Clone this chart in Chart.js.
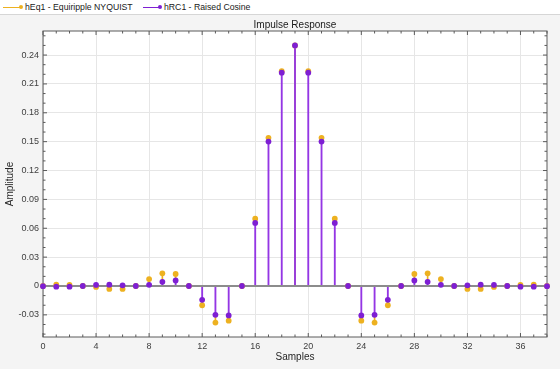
<!DOCTYPE html>
<html><head><meta charset="utf-8">
<script src="https://cdn.jsdelivr.net/npm/chart.js@4/dist/chart.umd.min.js"></script>
<style>
html,body{margin:0;padding:0;width:560px;height:369px;overflow:hidden;background:#f4f4f4;font-family:"Liberation Sans",Arial,Helvetica,sans-serif;}
#wrap{position:relative;width:560px;height:369px;}
#legend{position:absolute;left:0;top:0;width:560px;height:14px;background:#fff;border-bottom:1px solid #d6d6d6;z-index:2;}
.li{position:absolute;top:0;height:14px;font-size:8.7px;line-height:14px;color:#1a1a1a;white-space:nowrap;}
.ln{position:absolute;height:1px;top:7px;}
.dt{position:absolute;width:4px;height:4px;border-radius:50%;top:5px;}
#title{position:absolute;top:19px;left:43px;width:504px;text-align:center;font-size:10px;line-height:12px;color:#1a1a1a;z-index:2;}
canvas{position:absolute;left:0;top:0;}
</style></head>
<body><div id="wrap">
<canvas id="c" width="560" height="369"></canvas>
<div id="legend"></div>
<div id="title">Impulse Response</div>
</div>
<script>
const samples = [0,1,2,3,4,5,6,7,8,9,10,11,12,13,14,15,16,17,18,19,20,21,22,23,24,25,26,27,28,29,30,31,32,33,34,35,36,37,38];
const hEq1 = [0,0.0013,0.0011,0,-0.0010,-0.0030,-0.0030,0,0.0072,0.0132,0.0125,0,-0.0200,-0.0380,-0.0360,0,0.0700,0.1540,0.2232,0.2500,0.2232,0.1540,0.0700,0,-0.0360,-0.0380,-0.0200,0,0.0125,0.0132,0.0072,0,-0.0030,-0.0030,-0.0010,0,0.0011,0.0013,0];
const hRC1 = [-0.0002,-0.0007,-0.0007,0,0.0011,0.0014,0.0007,0,0.0012,0.0043,0.0057,0,-0.0144,-0.0300,-0.0306,0,0.0656,0.1501,0.2217,0.2500,0.2217,0.1501,0.0656,0,-0.0306,-0.0300,-0.0144,0,0.0057,0.0043,0.0012,0,0.0007,0.0014,0.0011,0,-0.0007,-0.0007,-0.0002];
const seriesNames = ["hEq1 - Equiripple NYQUIST","hRC1 - Raised Cosine"];
const xTickValues = [0,4,8,12,16,20,24,28,32,36];
const yTickValues = [-0.03,0,0.03,0.06,0.09,0.12,0.15,0.18,0.21,0.24];
const xRange = [0,38];
const yRange = [-0.053,0.265];

const COL_EQ = '#edb120', COL_RC = '#7e1fd3', COL_RC_STEM = '#9436e4';

// legend (HTML text)
const legendSpec = [
  {name: seriesNames[0], color: COL_EQ, x0: 3, x1: 21, tx: 25},
  {name: seriesNames[1], color: COL_RC, x0: 143, x1: 160, tx: 164}
];
const lg = document.getElementById('legend');
legendSpec.forEach(s => {
  const ln = document.createElement('div'); ln.className='ln';
  ln.style.left = s.x0+'px'; ln.style.width=(s.x1-s.x0)+'px'; ln.style.background=s.color; lg.appendChild(ln);
  const dt = document.createElement('div'); dt.className='dt';
  dt.style.left=(s.x1-2)+'px'; dt.style.background=s.color; lg.appendChild(dt);
  const t = document.createElement('div'); t.className='li'; t.style.left=s.tx+'px'; t.textContent=s.name; lg.appendChild(t);
});

const pts = arr => samples.map((x,i)=>({x:x, y:arr[i]}));
// visible part of the orange stem (the part not covered by the purple stem)
const eqStem = samples.map((x,i)=>{
  const a = hEq1[i], b = hRC1[i];
  const start = (a*b>0 && Math.abs(b)<Math.abs(a)) ? b : 0;
  return {x:x, y:[start, a]};
});

const framePlugin = {
  id:'frame',
  beforeDraw(chart){
    const {ctx, chartArea:a} = chart;
    ctx.save(); ctx.fillStyle='#ffffff';
    ctx.fillRect(a.left,a.top,a.right-a.left,a.bottom-a.top); ctx.restore();
  },
  beforeDatasetsDraw(chart){
    const {ctx, chartArea:a, scales} = chart;
    const xs = scales.x, ys = scales.y;
    ctx.save();
    ctx.strokeStyle='#5a5a5a'; ctx.lineWidth=1;
    ctx.strokeRect(a.left, a.top, a.right-a.left, a.bottom-a.top);
    ctx.beginPath();
    const major=4, minor=2.5;
    for(let v=xRange[0]; v<=xRange[1]; v++){
      const p = xs.getPixelForValue(v);
      const L = (v%4===0)?major:minor;
      ctx.moveTo(p,a.bottom); ctx.lineTo(p,a.bottom-L);
      ctx.moveTo(p,a.top); ctx.lineTo(p,a.top+L);
    }
    for(let k=Math.ceil(yRange[0]*100); k<=Math.floor(yRange[1]*100); k++){
      const p = ys.getPixelForValue(k/100);
      const L = (k%3===0)?major:minor;
      ctx.moveTo(a.left,p); ctx.lineTo(a.left+L,p);
      ctx.moveTo(a.right,p); ctx.lineTo(a.right-L,p);
    }
    ctx.stroke();
    ctx.restore();
  }
};

const fontFam = '"Liberation Sans", Arial, Helvetica, sans-serif';
new Chart(document.getElementById('c'), {
  type:'bar',
  data:{
    datasets:[
      {type:'scatter', label:seriesNames[1], data:pts(hRC1), backgroundColor:COL_RC, borderWidth:0, pointRadius:2.9, order:0, clip:false},
      {type:'scatter', label:seriesNames[0], data:pts(hEq1), backgroundColor:COL_EQ, borderWidth:0, pointRadius:2.9, order:1, clip:false},
      {type:'line', label:'baseline', data:[{x:xRange[0],y:0},{x:xRange[1],y:0}], borderColor:'#8c8c8c', borderWidth:2, pointRadius:0, order:2},
      {type:'bar', label:'stemRC', data:pts(hRC1), backgroundColor:COL_RC_STEM, borderWidth:0, barThickness:1.2, grouped:false, order:3},
      {type:'bar', label:'stemEQ', data:eqStem, backgroundColor:COL_EQ, borderWidth:0, barThickness:1, grouped:false, order:4}
    ]
  },
  options:{
    responsive:false, animation:false, devicePixelRatio:1,
    layout:{padding:{top:31,right:13,left:0,bottom:0}},
    plugins:{legend:{display:false}, tooltip:{enabled:false}, title:{display:false}},
    scales:{
      x:{type:'linear', min:xRange[0], max:xRange[1], offset:false,
        afterFit(s){ s.height = 32; },
        afterBuildTicks(s){ s.ticks = xTickValues.map(v=>({value:v})); },
        grid:{color:'#e6e6e6', drawTicks:false, offset:false},
        border:{display:false},
        ticks:{padding:4, color:'#404040', font:{size:9, family:fontFam}, maxRotation:0, autoSkip:false},
        title:{display:true, text:'Samples', color:'#262626', font:{size:10, family:fontFam}, padding:{top:0,bottom:6}}
      },
      y:{type:'linear', min:yRange[0], max:yRange[1],
        afterFit(s){ s.width = 43; },
        afterBuildTicks(s){ s.ticks = yTickValues.map(v=>({value:v})); },
        grid:{color:'#e6e6e6', drawTicks:false},
        border:{display:false},
        ticks:{padding:4, color:'#404040', font:{size:9, family:fontFam}, autoSkip:false,
          callback:v=>String(Math.round(v*100)/100)},
        title:{display:true, text:'Amplitude', color:'#262626', font:{size:10, family:fontFam}, padding:{top:4,bottom:0}}
      }
    }
  },
  plugins:[framePlugin]
});
</script>
</body></html>
